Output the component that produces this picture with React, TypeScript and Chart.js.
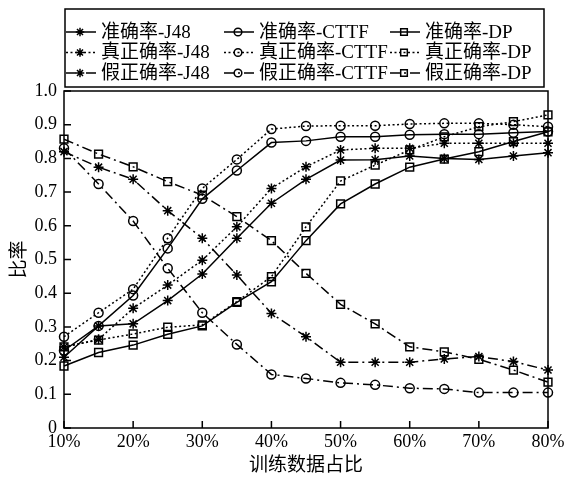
import React, { useEffect, useRef } from 'react';
import { Chart, registerables } from 'chart.js';

Chart.register(...registerables);

// Training data proportion (%)
const xValues = [10, 15, 20, 25, 30, 35, 40, 45, 50, 55, 60, 65, 70, 75, 80];

const accJ48 = [0.21, 0.303, 0.309, 0.378, 0.457, 0.563, 0.667, 0.738, 0.795, 0.796, 0.807, 0.8, 0.797, 0.807, 0.817];
const accCTTF = [0.23, 0.303, 0.393, 0.533, 0.68, 0.764, 0.847, 0.852, 0.864, 0.864, 0.87, 0.872, 0.872, 0.876, 0.88];
const accDP = [0.184, 0.224, 0.246, 0.278, 0.303, 0.373, 0.434, 0.556, 0.665, 0.724, 0.774, 0.798, 0.82, 0.85, 0.879];

const tprJ48 = [0.24, 0.263, 0.355, 0.424, 0.498, 0.597, 0.711, 0.775, 0.825, 0.83, 0.83, 0.845, 0.845, 0.845, 0.845];
const tprCTTF = [0.271, 0.342, 0.412, 0.563, 0.711, 0.797, 0.887, 0.896, 0.897, 0.897, 0.902, 0.904, 0.904, 0.9, 0.894];
const tprDP = [0.241, 0.261, 0.279, 0.299, 0.306, 0.375, 0.449, 0.597, 0.733, 0.78, 0.825, 0.864, 0.894, 0.909, 0.929];

const fprJ48 = [0.82, 0.774, 0.738, 0.645, 0.563, 0.454, 0.34, 0.271, 0.195, 0.195, 0.195, 0.205, 0.212, 0.197, 0.172];
const fprCTTF = [0.83, 0.724, 0.614, 0.474, 0.342, 0.248, 0.159, 0.147, 0.134, 0.128, 0.118, 0.116, 0.105, 0.105, 0.105];
const fprDP = [0.857, 0.813, 0.775, 0.731, 0.691, 0.627, 0.556, 0.459, 0.367, 0.309, 0.241, 0.226, 0.204, 0.172, 0.136];

const seriesNames = [
  '准确率-J48', '准确率-CTTF', '准确率-DP',
  '真正确率-J48', '真正确率-CTTF', '真正确率-DP',
  '假正确率-J48', '假正确率-CTTF', '假正确率-DP',
];
const xTitle = '训练数据占比';
const yTitle = '比率';

const FONT = '"Liberation Serif", "Noto Sans CJK SC", serif';

const SOLID: number[] = [];
const DOTTED = [2, 2.5];
const DASHDOT = [10, 4, 2, 4];

const pointStyles = ['star', 'circle', 'rect'];
const pointRadii = [5, 4.5, 5.5];

const seriesValues = [accJ48, accCTTF, accDP, tprJ48, tprCTTF, tprDP, fprJ48, fprCTTF, fprDP];
const dashes = [SOLID, SOLID, SOLID, DOTTED, DOTTED, DOTTED, DASHDOT, DASHDOT, DASHDOT];

const framePlugin = {
  id: 'frameLegend',
  afterDraw(chart: any) {
    const { ctx, chartArea } = chart;
    const { left, right, top, bottom } = chartArea;
    const xs = chart.scales.x;
    const ys = chart.scales.y;
    ctx.save();
    ctx.strokeStyle = '#000';
    ctx.lineWidth = 1.5;
    ctx.setLineDash([]);
    ctx.strokeRect(left, top, right - left, bottom - top);
    ctx.beginPath();
    xs.ticks.forEach((t: any) => {
      const px = xs.getPixelForValue(t.value);
      ctx.moveTo(px, bottom);
      ctx.lineTo(px, bottom - 7);
    });
    ys.ticks.forEach((t: any) => {
      const py = ys.getPixelForValue(t.value);
      ctx.moveTo(left, py);
      ctx.lineTo(left + 7, py);
    });
    ctx.stroke();

    // legend box
    ctx.lineWidth = 1.5;
    ctx.strokeRect(65, 9, 479, 78);
    const colX = [66, 224, 390];
    const rowY = [32, 52.5, 73];
    ctx.font = '19px ' + FONT;
    ctx.textBaseline = 'middle';
    ctx.textAlign = 'left';
    chart.data.datasets.forEach((ds: any, i: number) => {
      const c = i % 3;
      const r = Math.floor(i / 3);
      const x0 = colX[c];
      const y0 = rowY[r];
      ctx.save();
      ctx.strokeStyle = '#000';
      ctx.lineWidth = 1.5;
      ctx.setLineDash(ds.borderDash || []);
      ctx.beginPath();
      ctx.moveTo(x0, y0);
      ctx.lineTo(x0 + 30, y0);
      ctx.stroke();
      ctx.setLineDash([]);
      (Chart as any).helpers?.drawPoint
        ? null
        : null;
      ctx.restore();
      drawMarker(ctx, ds.pointStyle, x0 + 14, y0, ds.pointRadius * 0.85);
      ctx.fillStyle = '#000';
      ctx.fillText(ds.label, x0 + 35, y0 + 1);
    });
    ctx.restore();
  },
};

function drawMarker(ctx: CanvasRenderingContext2D, style: string, x: number, y: number, r: number) {
  ctx.save();
  ctx.strokeStyle = '#000';
  ctx.lineWidth = 1.5;
  ctx.setLineDash([]);
  ctx.beginPath();
  if (style === 'circle') {
    ctx.arc(x, y, r, 0, Math.PI * 2);
  } else if (style === 'rect') {
    const s = r * Math.SQRT1_2;
    ctx.rect(x - s, y - s, 2 * s, 2 * s);
  } else {
    for (let k = 0; k < 4; k++) {
      const a = (k * Math.PI) / 4;
      ctx.moveTo(x - Math.cos(a) * r, y - Math.sin(a) * r);
      ctx.lineTo(x + Math.cos(a) * r, y + Math.sin(a) * r);
    }
  }
  ctx.stroke();
  ctx.restore();
}

export default function App() {
  const canvasRef = useRef<HTMLCanvasElement | null>(null);

  useEffect(() => {
    document.body.style.margin = '0';
    const canvas = canvasRef.current;
    if (!canvas) return;
    const datasets = seriesValues.map((vals, i) => ({
      label: seriesNames[i],
      data: xValues.map((x, j) => ({ x, y: vals[j] })),
      borderColor: '#000',
      backgroundColor: 'transparent',
      borderWidth: 1.5,
      borderDash: dashes[i],
      pointStyle: pointStyles[i % 3],
      pointRadius: pointRadii[i % 3],
      pointBorderColor: '#000',
      pointBackgroundColor: 'transparent',
      pointBorderWidth: 1.5,
      tension: 0,
      clip: false as any,
    }));

    const chart = new Chart(canvas, {
      type: 'line',
      data: { datasets },
      options: {
        responsive: false,
        animation: false,
        devicePixelRatio: 1,
        layout: { padding: { top: 91, right: 23, left: 0, bottom: 0 } },
        plugins: {
          legend: { display: false },
          tooltip: { enabled: false },
        },
        scales: {
          x: {
            type: 'linear',
            min: 10,
            max: 80,
            grid: { display: false, drawTicks: false },
            border: { display: false },
            ticks: {
              stepSize: 10,
              color: '#000',
              padding: 3,
              maxRotation: 0,
              font: { family: FONT, size: 18 },
              callback: (v: any) => v + '%',
            },
            title: {
              display: true,
              text: xTitle,
              color: '#000',
              font: { family: FONT, size: 19 },
              padding: { top: 0, bottom: 0 },
            },
            afterFit: (s: any) => { s.height = 49; },
          },
          y: {
            min: 0,
            max: 1,
            grid: { display: false, drawTicks: false },
            border: { display: false },
            ticks: {
              stepSize: 0.1,
              color: '#000',
              padding: 7,
              font: { family: FONT, size: 18 },
              callback: (v: any) => (Math.abs(v) < 1e-9 ? '0' : Number(v).toFixed(1)),
            },
            title: {
              display: true,
              text: yTitle,
              color: '#000',
              font: { family: FONT, size: 19 },
              padding: { top: 9, bottom: 0 },
            },
            afterFit: (s: any) => { s.width = 64; },
          },
        },
      },
      plugins: [framePlugin],
    });
    return () => chart.destroy();
  }, []);

  return (
    <div style={{ width: 571, height: 477 }}>
      <canvas ref={canvasRef} width={571} height={477} style={{ display: 'block' }} />
    </div>
  );
}
